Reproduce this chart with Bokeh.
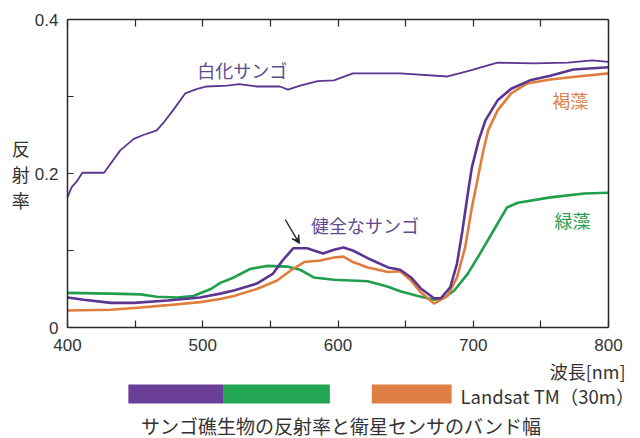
from bokeh.plotting import figure
from bokeh.models import Range1d, LinearAxis, FixedTicker, Label, Arrow, VeeHead, Span
from bokeh.layouts import column
from bokeh.embed import file_html
from bokeh.resources import INLINE

# ---- data ----
wl_bleached = [400, 403, 407, 411, 427, 439, 449, 456, 466, 471, 478, 487, 496, 503, 518, 527, 540, 557,
               563, 572, 585, 597, 611, 622, 646, 681, 696, 718, 745, 770, 788, 800]
bleached = [0.169, 0.182, 0.19, 0.201, 0.201, 0.23, 0.245, 0.25, 0.256, 0.266, 0.282, 0.304, 0.31, 0.313,
            0.314, 0.316, 0.313, 0.313, 0.309, 0.314, 0.32, 0.321, 0.33, 0.33, 0.33, 0.326, 0.333, 0.344,
            0.343, 0.344, 0.347, 0.345]

wl_healthy = [400, 412, 432, 449, 474, 498, 513, 523, 540, 552, 559, 567, 577, 589, 597, 604, 611, 622,
              637, 646, 654, 661, 671, 676, 683, 688, 692, 696, 699, 704, 709, 718, 728, 742, 757, 774, 800]
healthy = [0.039, 0.036, 0.032, 0.032, 0.035, 0.039, 0.044, 0.048, 0.057, 0.07, 0.087, 0.103, 0.103,
           0.096, 0.101, 0.104, 0.1, 0.09, 0.078, 0.075, 0.065, 0.051, 0.038, 0.038, 0.052, 0.083, 0.126,
           0.174, 0.208, 0.243, 0.269, 0.295, 0.31, 0.321, 0.327, 0.335, 0.338]

wl_brown = [400, 432, 454, 474, 498, 513, 523, 540, 555, 565, 575, 587, 597, 604, 611, 622, 637, 646,
            654, 661, 671, 681, 688, 694, 699, 702, 707, 711, 718, 728, 740, 757, 777, 800]
brown = [0.022, 0.023, 0.026, 0.029, 0.033, 0.037, 0.041, 0.05, 0.061, 0.074, 0.085, 0.087, 0.091, 0.092,
         0.085, 0.078, 0.072, 0.073, 0.061, 0.046, 0.031, 0.041, 0.065, 0.104, 0.156, 0.182, 0.226, 0.256,
         0.282, 0.304, 0.317, 0.322, 0.326, 0.33]

wl_green = [400, 432, 454, 466, 481, 493, 506, 513, 523, 535, 548, 563, 572, 582, 597, 622, 637, 646,
            659, 671, 678, 686, 696, 705, 715, 725, 733, 757, 782, 800]
green = [0.045, 0.044, 0.043, 0.04, 0.039, 0.041, 0.05, 0.058, 0.065, 0.076, 0.08, 0.079, 0.075, 0.065,
         0.062, 0.06, 0.053, 0.047, 0.041, 0.036, 0.038, 0.048, 0.07, 0.096, 0.126, 0.156, 0.162, 0.169,
         0.174, 0.175]

# Landsat TM bands (nm) and colours
band_left = [445, 515, 625]
band_right = [515, 594, 684]
band_colors = ["#6b3f98", "#22a654", "#e07f45"]

x_ticks = [400, 500, 600, 700, 800]
x_minor = [450, 550, 650, 750]
x_all = [400, 450, 500, 550, 600, 650, 700, 750, 800]
y_ticks = [0, 0.2, 0.4]
y_minor = [0.1, 0.3]
y_tick_labels = {0: "0", 0.2: "0.2", 0.4: "0.4"}

PURPLE = "#5b3590"
PURPLE_T = "#5d4b8e"
ORANGE = "#e07d3c"
GREEN = "#1f9e4b"
AX = "#2a2a2a"
TXT = "#333333"
NUMFONT = "Liberation Sans"
JPFONT = "Noto Sans CJK JP"

# layout geometry (pixels)
W = 640
FL, FR = 67, 608          # plot box left / right (400 nm / 800 nm)
FRV = 632                 # drawing area right edge (room for texts that pass 800 nm)
P_H = 358
P2_H = 438 - P_H

X0, X1 = 400, 800
nm_per_px = (X1 - X0) / (FR - FL)
X1V = X1 + (FRV - FR) * nm_per_px

p = figure(width=W, height=P_H, x_range=Range1d(X0, X1V), y_range=Range1d(0, 0.4),
           output_backend="svg", toolbar_location=None,
           min_border_left=FL, min_border_right=W - FRV, min_border_top=19, min_border_bottom=P_H - 327)
p.xgrid.visible = False
p.ygrid.visible = False
p.outline_line_color = None
p.background_fill_color = "white"
p.border_fill_color = "white"

for ax in p.xaxis:
    ax.ticker = FixedTicker(ticks=x_ticks, minor_ticks=x_minor)
    ax.bounds = (X0, X1)
for ax in p.yaxis:
    ax.ticker = FixedTicker(ticks=y_ticks, minor_ticks=y_minor)
    ax.major_label_overrides = y_tick_labels

for ax in list(p.xaxis) + list(p.yaxis):
    ax.axis_line_color = AX
    ax.axis_line_width = 1.5
    ax.major_tick_line_color = AX
    ax.minor_tick_line_color = AX
    ax.major_tick_line_width = 1.2
    ax.minor_tick_line_width = 1.2
    ax.major_tick_out = 0
    ax.minor_tick_out = 0
    ax.major_label_text_font = NUMFONT
    ax.major_label_text_font_size = "17px"
    ax.major_label_text_color = TXT
for ax in p.xaxis:
    ax.major_tick_in = 7
    ax.minor_tick_in = 7
    ax.major_label_standoff = 11
for ax in p.yaxis:
    ax.major_tick_in = 6
    ax.minor_tick_in = 6
    ax.major_label_standoff = 9
    ax.axis_label = "反\n射\n率"
    ax.axis_label_text_font = JPFONT
    ax.axis_label_text_font_size = "18px"
    ax.axis_label_text_font_style = "normal"
    ax.axis_label_text_color = TXT
    ax.axis_label_text_line_height = 1.0
    ax.axis_label_standoff = 2
    try:
        ax.axis_label_orientation = "horizontal"
    except Exception:
        pass

top = LinearAxis(ticker=FixedTicker(ticks=[], minor_ticks=x_all), bounds=(X0, X1),
                 major_label_standoff=0,
                 major_tick_in=7, major_tick_out=0, minor_tick_in=7, minor_tick_out=0,
                 axis_line_color=AX, axis_line_width=1.5,
                 major_tick_line_color=AX, minor_tick_line_color=AX,
                 major_tick_line_width=1.2, minor_tick_line_width=1.2)
p.add_layout(top, "above")
# right edge of the plot box at 800 nm
p.add_layout(Span(location=X1, dimension="height", line_color=AX, line_width=1.5))

p.line(wl_bleached, bleached, line_color=PURPLE, line_width=1.8)
p.line(wl_green, green, line_color=GREEN, line_width=2.6)
p.line(wl_brown, brown, line_color=ORANGE, line_width=2.6)
p.line(wl_healthy, healthy, line_color=PURPLE, line_width=2.6)


def lab(plot, x, y, t, color, size="18px", font=JPFONT, align="left"):
    plot.add_layout(Label(x=x, y=y, text=t, text_color=color, text_font=font,
                          text_font_size=size, text_align=align, text_baseline="middle"))


lab(p, 496, 0.334, "白化サンゴ", PURPLE_T)
lab(p, 580, 0.1325, "健全なサンゴ", PURPLE_T)
lab(p, 758.5, 0.295, "褐藻", "#d9844a")
lab(p, 760, 0.139, "緑藻", "#2a9d52")

p.add_layout(Arrow(x_start=561, y_start=0.140, x_end=571.5, y_end=0.109,
                   line_color="#222222", line_width=1.3,
                   end=VeeHead(size=8, fill_color="#222222", line_color="#222222")))

# ---- band strip (shares the wavelength scale; y measured in pixels from the strip top) ----
p2 = figure(width=W, height=P2_H, x_range=p.x_range, y_range=Range1d(P2_H, 0),
            output_backend="svg", toolbar_location=None,
            x_axis_location=None, y_axis_location=None,
            min_border_left=FL, min_border_right=W - FRV, min_border_top=0, min_border_bottom=0)
p2.xgrid.visible = False
p2.ygrid.visible = False
p2.outline_line_color = None
p2.background_fill_color = "white"
p2.border_fill_color = "white"

BAND_TOP = 384 - P_H
BAND_BOT = 403 - P_H
p2.quad(left=band_left, right=band_right, bottom=BAND_BOT, top=BAND_TOP,
        fill_color=band_colors, line_color=None)

lab(p2, X1 + 17 * nm_per_px, 370 - P_H, "波長[nm]", TXT, size="18px", align="right")
lab(p2, X0 + (460 - FL) * nm_per_px, 395 - P_H, "Landsat TM（30m）", TXT, size="18.5px")
lab(p2, X0 + (340 - FL) * nm_per_px, 425 - P_H, "サンゴ礁生物の反射率と衛星センサのバンド幅", TXT,
    size="19px", align="center")

layout = column(p, p2)
open("out.html", "w").write(file_html(layout, INLINE))
